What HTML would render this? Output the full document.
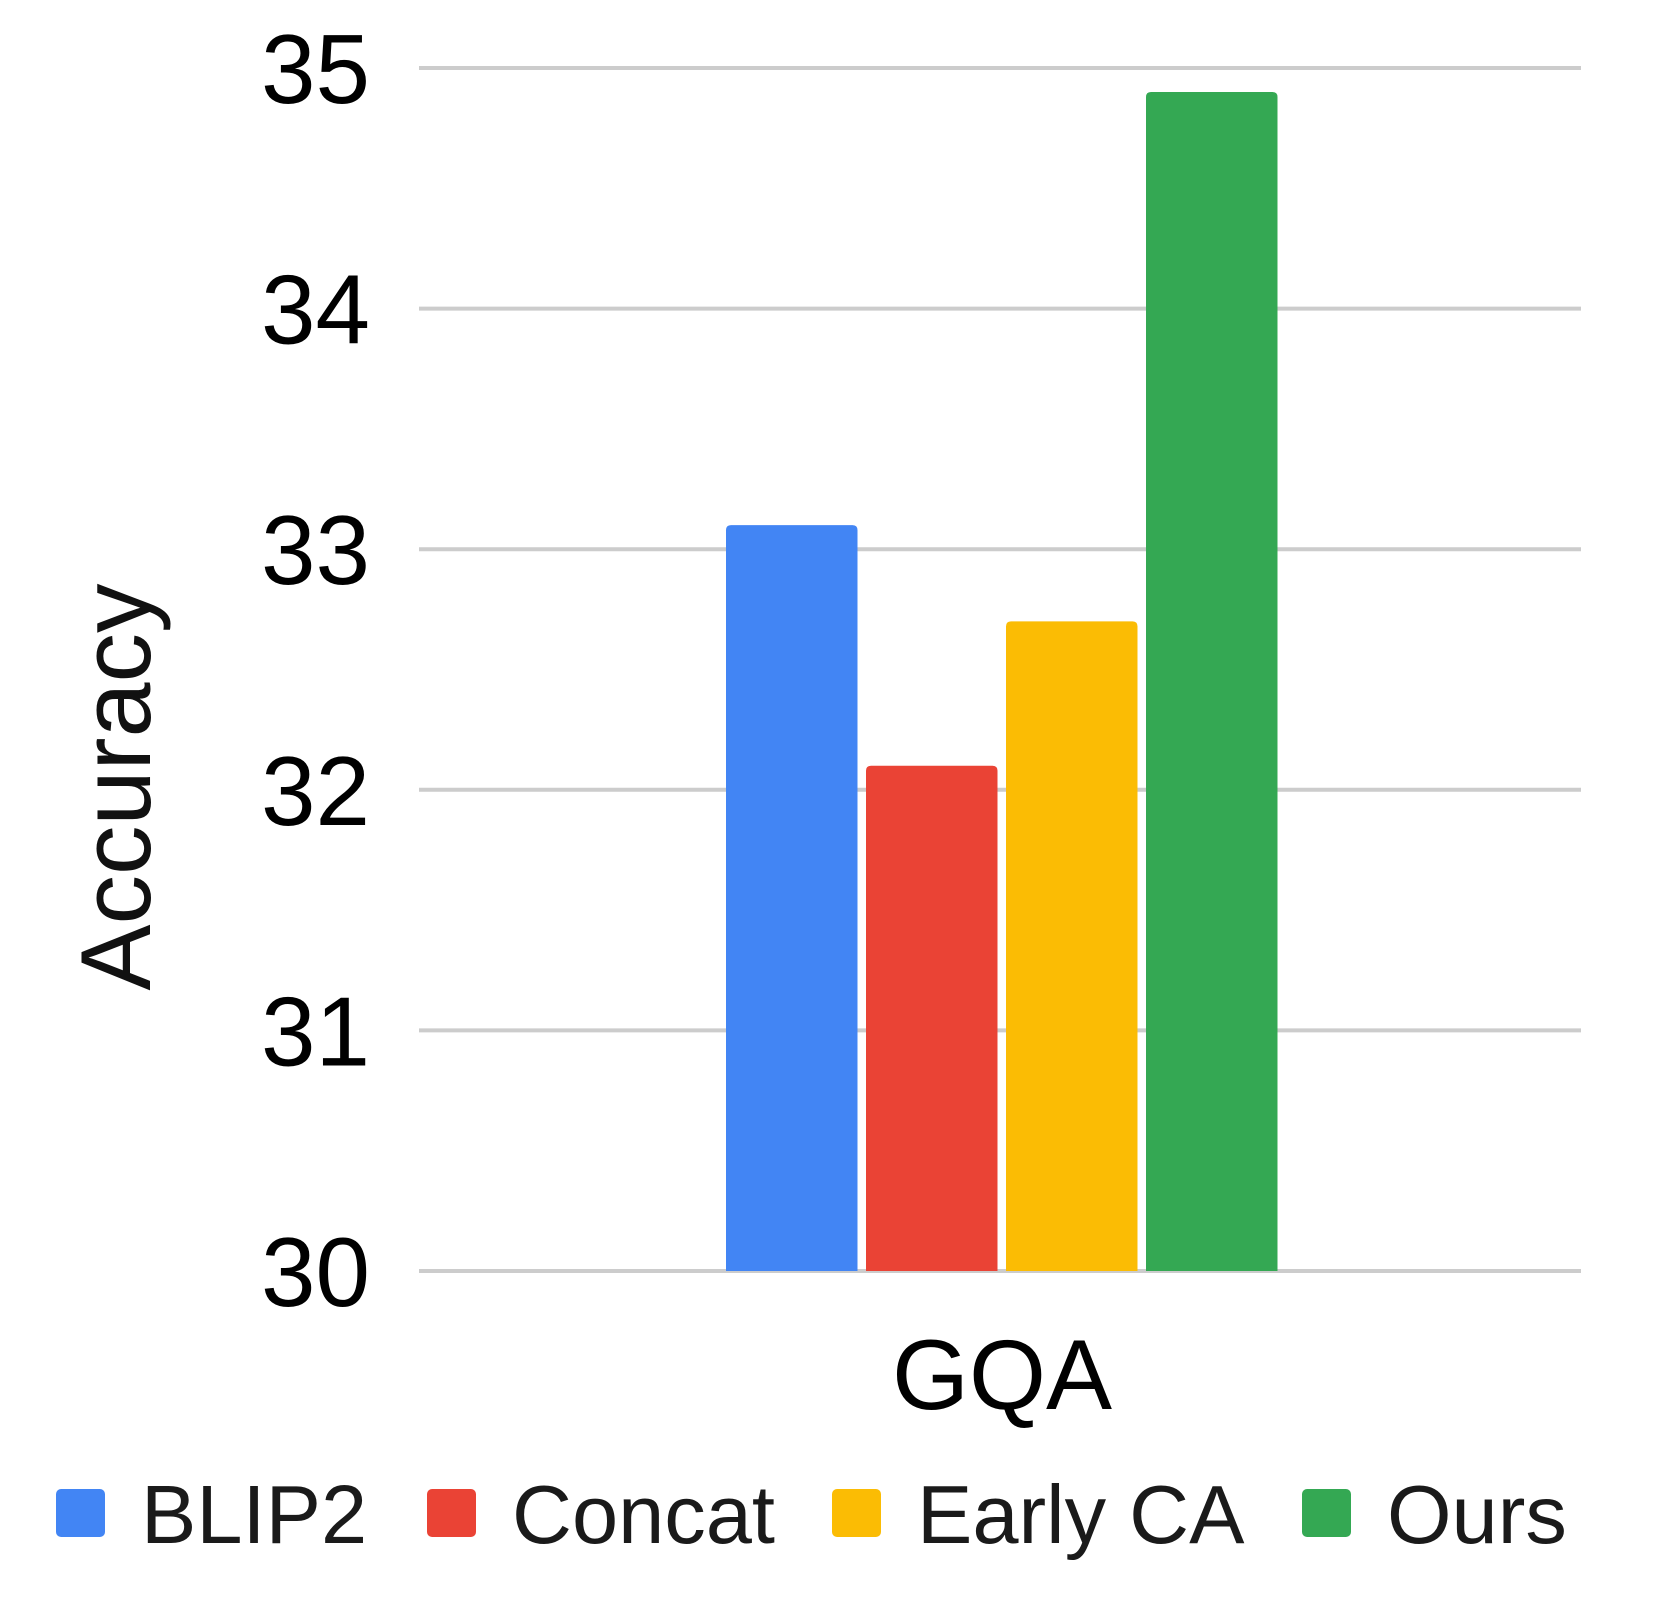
<!DOCTYPE html>
<html><head><meta charset="utf-8"><style>
html,body{margin:0;padding:0;background:#fff;}
svg{display:block;font-family:"Liberation Sans",Arial,sans-serif;}
</style></head><body>
<svg id="chart" width="1661" height="1603" viewBox="0 0 1661 1603" xmlns="http://www.w3.org/2000/svg">
<g id="grid"></g>
<g id="yticks"></g>
<g id="bars"></g>
<text transform="translate(150,787) rotate(-90)" text-anchor="middle" font-size="99" fill="#111">Accuracy</text>
<text x="1002" y="1409" text-anchor="middle" font-size="99" fill="#000">GQA</text>
<g id="legend"></g>
</svg>
<script>
const categories = ["GQA"];
const seriesNames = ["BLIP2", "Concat", "Early CA", "Ours"];
const seriesValues = [33.1, 32.1, 32.7, 34.9];
const seriesColors = ["#4285f4", "#ea4335", "#fbbc04", "#34a853"];
const yTicks = [30, 31, 32, 33, 34, 35];

const NS = "http://www.w3.org/2000/svg";
const yMin = 30, yMax = 35, yTop = 68, yBot = 1271, xL = 419, xR = 1581;
function y(v){ return yBot - (v - yMin) / (yMax - yMin) * (yBot - yTop); }
function mk(tag, attrs, parent){ const e = document.createElementNS(NS, tag); for (const k in attrs) e.setAttribute(k, attrs[k]); parent.appendChild(e); return e; }

const grid = document.getElementById('grid'), yt = document.getElementById('yticks');
yTicks.forEach(t => {
  const l = mk('line', {x1:xL, x2:xR, y1:y(t), y2:y(t), stroke:'#cccccc', 'stroke-width':4}, grid);
  
  
  const tx = mk('text', {x:370, y:y(t)+35, 'text-anchor':'end', 'font-size':98, fill:'#000'}, yt);
  tx.textContent = t;
  
  
});

const bars = document.getElementById('bars');
const barW = 131.5, gap = 8.5, groupStart = 726;
seriesValues.forEach((v, i) => {
  const x0 = groupStart + i * (barW + gap);
  const top = y(v);
  const p = mk('path', {d:`M${x0},${yBot} L${x0},${top+5} Q${x0},${top} ${x0+5},${top} L${x0+barW-5},${top} Q${x0+barW},${top} ${x0+barW},${top+5} L${x0+barW},${yBot} Z`, fill:seriesColors[i]}, bars);
  
  
});

const legend = document.getElementById('legend');
const swX = [56, 427, 832, 1302];
const txX = [141, 512, 917, 1387];
seriesNames.forEach((n, i) => {
  const g = mk('g', {}, legend);
  
  
  mk('rect', {x:swX[i], y:1489, width:49, height:48, rx:5, fill:seriesColors[i]}, g);
  const t = mk('text', {x:txX[i], y:1543, 'font-size':83, fill:'#1a1a1a'}, g);
  t.textContent = n;
});
</script>
</body></html>
